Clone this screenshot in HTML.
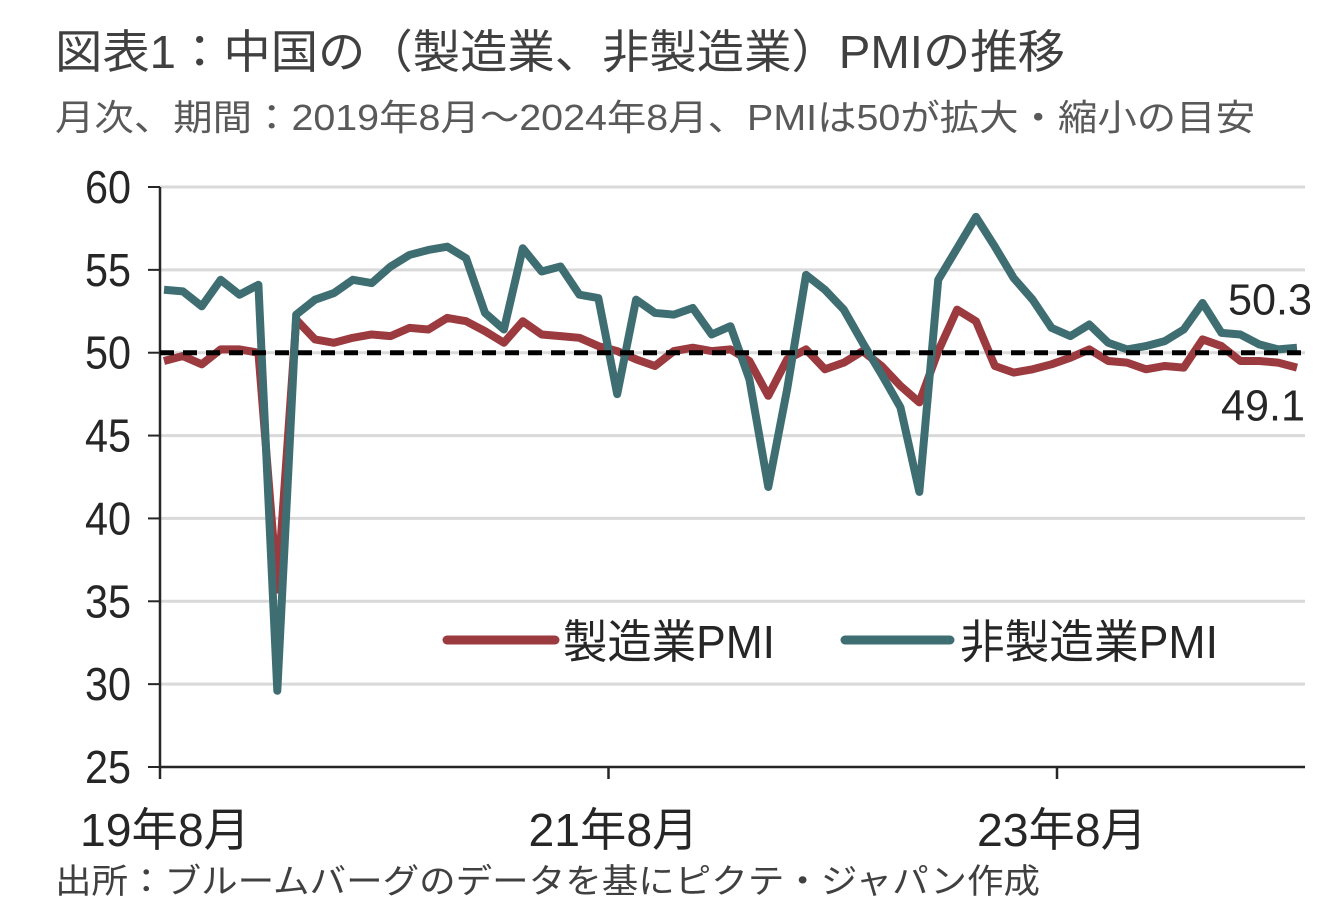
<!DOCTYPE html>
<html><head><meta charset="utf-8"><style>
html,body{margin:0;padding:0;background:#fff;}
svg{display:block;font-family:"Liberation Sans Narrow","Liberation Sans","Noto Sans CJK JP",sans-serif;}
</style></head><body>
<svg id="chart" width="1339" height="920">
<text x="55" y="68" font-size="46" fill="#404040" textLength="1010" lengthAdjust="spacingAndGlyphs">図表1：中国の（製造業、非製造業）PMIの推移</text>
<text x="55" y="130" font-size="36" fill="#595959" textLength="1200" lengthAdjust="spacingAndGlyphs">月次、期間：2019年8月～2024年8月、PMIは50が拡大・縮小の目安</text>
<text x="55" y="893" font-size="34" fill="#404040" textLength="985" lengthAdjust="spacingAndGlyphs">出所：ブルームバーグのデータを基にピクテ・ジャパン作成</text>
<g id="grid"></g><g id="axes"></g><g id="series"></g>
<g>
<line x1="447" y1="640" x2="555" y2="640" stroke="#9b3a3f" stroke-width="9" stroke-linecap="round"/>
<text x="563" y="658" font-size="46" fill="#262626" textLength="212" lengthAdjust="spacingAndGlyphs">製造業PMI</text>
<line x1="845" y1="640" x2="950" y2="640" stroke="#3f6e72" stroke-width="9" stroke-linecap="round"/>
<text x="960" y="658" font-size="46" fill="#262626" textLength="258" lengthAdjust="spacingAndGlyphs">非製造業PMI</text>
</g>
</svg>
<script>
const yTicks=[25,30,35,40,45,50,55,60];
const xTickLabels=["19年8月","21年8月","23年8月"];
const xTickIndex=[0,24,48];
const mfg=[49.5,49.8,49.3,50.2,50.2,50.0,35.7,52.0,50.8,50.6,50.9,51.1,51.0,51.5,51.4,52.1,51.9,51.3,50.6,51.9,51.1,51.0,50.9,50.4,50.1,49.6,49.2,50.1,50.3,50.1,50.2,49.5,47.4,49.6,50.2,49.0,49.4,50.1,49.2,48.0,47.0,50.1,52.6,51.9,49.2,48.8,49.0,49.3,49.7,50.2,49.5,49.4,49.0,49.2,49.1,50.8,50.4,49.5,49.5,49.4,49.1];
const nonMfg=[53.8,53.7,52.8,54.4,53.5,54.1,29.6,52.3,53.2,53.6,54.4,54.2,55.2,55.9,56.2,56.4,55.7,52.4,51.4,56.3,54.9,55.2,53.5,53.3,47.5,53.2,52.4,52.3,52.7,51.1,51.6,48.4,41.9,47.8,54.7,53.8,52.6,50.6,48.7,46.7,41.6,54.4,56.3,58.2,56.4,54.5,53.2,51.5,51.0,51.7,50.6,50.2,50.4,50.7,51.4,53.0,51.2,51.1,50.5,50.2,50.3];
const NS="http://www.w3.org/2000/svg";
const X0=160,X1=1305,Y0=767,Y1=187,N=mfg.length;
const cw=(X1-X0)/N;
const P0=164,P1=1297;
function xs(i){return P0+(P1-P0)*i/(N-1);}
function xb(i){return X0+(1057-X0)/48*i;}
function ys(v){return Y0-(v-25)/(60-25)*(Y0-Y1);}
function mk(tag,attrs,parent){const e=document.createElementNS(NS,tag);for(const k in attrs)e.setAttribute(k,attrs[k]);parent.appendChild(e);return e;}
const grid=document.getElementById('grid'),axes=document.getElementById('axes'),ser=document.getElementById('series');
yTicks.forEach(v=>{
  if(v>25){const g=mk('line',{x1:X0,x2:X1,y1:ys(v),y2:ys(v),stroke:'#d9d9d9','stroke-width':3},grid);
  
  }
  const tk=mk('line',{x1:X0-12,x2:X0,y1:ys(v),y2:ys(v),stroke:'#262626','stroke-width':2},axes);
  
  
  const t=mk('text',{x:131,y:ys(v)+16,'font-size':46,fill:'#262626','text-anchor':'end',textLength:46,lengthAdjust:'spacingAndGlyphs'},axes);
  t.textContent=v;
  
  
});
const ya=mk('line',{x1:X0,x2:X0,y1:Y1,y2:Y0,stroke:'#262626','stroke-width':2.5},axes);


const xa=mk('line',{x1:X0,x2:X1,y1:Y0,y2:Y0,stroke:'#262626','stroke-width':2.5},axes);


xTickIndex.forEach((idx,k)=>{
  const tk=mk('line',{x1:xb(idx),x2:xb(idx),y1:Y0,y2:Y0+12,stroke:'#262626','stroke-width':2.5},axes);
  
  
  const t=mk('text',{x:xb(idx)+5,y:846,'font-size':46,fill:'#262626','text-anchor':'middle',textLength:170,lengthAdjust:'spacingAndGlyphs'},axes);
  t.textContent=xTickLabels[k];
  
  
});
function line(data,color,name){
  const p=mk('polyline',{points:data.map((v,i)=>xs(i)+','+ys(v)).join(' '),fill:'none',stroke:color,'stroke-width':8,'stroke-linejoin':'round'},ser);
  
  
}
line(mfg,'#9b3a3f','manufacturing-pmi-line');
line(nonMfg,'#3f6e72','nonmanufacturing-pmi-line');
const ref=mk('line',{x1:X0,x2:X1,y1:ys(50),y2:ys(50),stroke:'#000','stroke-width':5,'stroke-dasharray':'14 9'},ser);


const l1=mk('text',{x:1312,y:ys(nonMfg[N-1])-33,'font-size':44,fill:'#262626','text-anchor':'end',textLength:84,lengthAdjust:'spacingAndGlyphs'},ser);
l1.textContent=nonMfg[N-1].toFixed(1);


const l2=mk('text',{x:1305,y:ys(mfg[N-1])+53,'font-size':44,fill:'#262626','text-anchor':'end',textLength:84,lengthAdjust:'spacingAndGlyphs'},ser);
l2.textContent=mfg[N-1].toFixed(1);


</script>
</body></html>
